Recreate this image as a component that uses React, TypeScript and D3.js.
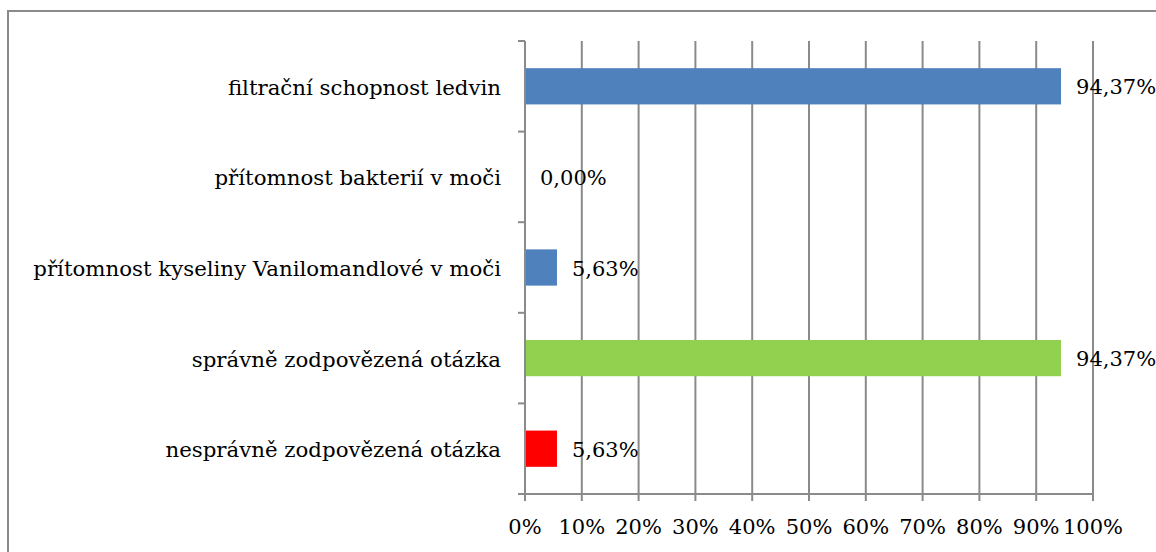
import React from "react";
import * as d3 from "d3";

const categories = [
  "filtrační schopnost ledvin",
  "přítomnost bakterií v moči",
  "přítomnost kyseliny Vanilomandlové v moči",
  "správně zodpovězená otázka",
  "nesprávně zodpovězená otázka",
];
const values = [94.37, 0.0, 5.63, 94.37, 5.63];
const colors = ["#4F81BD", "#4F81BD", "#4F81BD", "#92D050", "#FF0000"];
const xTicks = [0, 10, 20, 30, 40, 50, 60, 70, 80, 90, 100];

const W = 1156;
const H = 552;
const left = 525;
const right = 1093;
const top = 41;
const bottom = 494;
const font = "'DejaVu Serif', serif";
const gridColor = "#8a8a8a";

export default function App() {
  const x = d3.scaleLinear().domain([0, 100]).range([left, right]);
  const y = d3.scaleBand<string>().domain(categories).range([top, bottom]).paddingInner(0).paddingOuter(0);
  const bw = y.bandwidth();
  const bh = bw * 0.4;
  const fmt = (v: number) => v.toFixed(2).replace(".", ",") + "%";
  const catStyle: React.CSSProperties = { fontFamily: font, fontSize: 21.3 };
  const numStyle: React.CSSProperties = { fontFamily: font, fontSize: 21 };

  return (
    <div style={{ position: "absolute", left: 0, top: 0 }}>
      <svg width={W} height={H} style={{ display: "block" }}>
        <rect x={0} y={0} width={W} height={H} fill="#fff" />
        <rect x={8} y={11} width={W + 10} height={H + 10} fill="none" stroke="#8a8a8a" strokeWidth={2} />
        {xTicks.filter((t) => t > 0).map((t) => (
          <line key={"g" + t} x1={x(t)} x2={x(t)} y1={top} y2={bottom} stroke={gridColor} strokeWidth={2} />
        ))}
        {categories.map((c, i) => (
          <rect key={"b" + i} x={x(0)} y={(y(c) as number) + (bw - bh) / 2} width={x(values[i]) - x(0)} height={bh} fill={colors[i]} />
        ))}
        <line x1={left} x2={left} y1={top} y2={bottom} stroke={gridColor} strokeWidth={2} />
        {categories.map((c, i) => (
          <line key={"ct" + i} x1={left - 7} x2={left} y1={y(c) as number} y2={y(c) as number} stroke={gridColor} strokeWidth={2} />
        ))}
        <line x1={left - 7} x2={left} y1={bottom} y2={bottom} stroke={gridColor} strokeWidth={2} />
        <line x1={left - 7} x2={right} y1={bottom} y2={bottom} stroke={gridColor} strokeWidth={2} />
        {xTicks.map((t) => (
          <line key={"xt" + t} x1={x(t)} x2={x(t)} y1={bottom} y2={bottom + 7} stroke={gridColor} strokeWidth={2} />
        ))}
        {xTicks.map((t) => (
          <text key={"xl" + t} x={x(t)} y={527} textAnchor="middle" dominantBaseline="central" style={numStyle} fill="#000">
            {t + "%"}
          </text>
        ))}
        {categories.map((c, i) => (
          <text key={"cl" + i} x={501} y={(y(c) as number) + bw / 2 + 1} textAnchor="end" dominantBaseline="central" style={catStyle} fill="#000">
            {c}
          </text>
        ))}
        {categories.map((c, i) => (
          <text key={"vl" + i} x={x(values[i]) + 15} y={(y(c) as number) + bw / 2 + 1} textAnchor="start" dominantBaseline="central" style={numStyle} fill="#000">
            {fmt(values[i])}
          </text>
        ))}
      </svg>
    </div>
  );
}
